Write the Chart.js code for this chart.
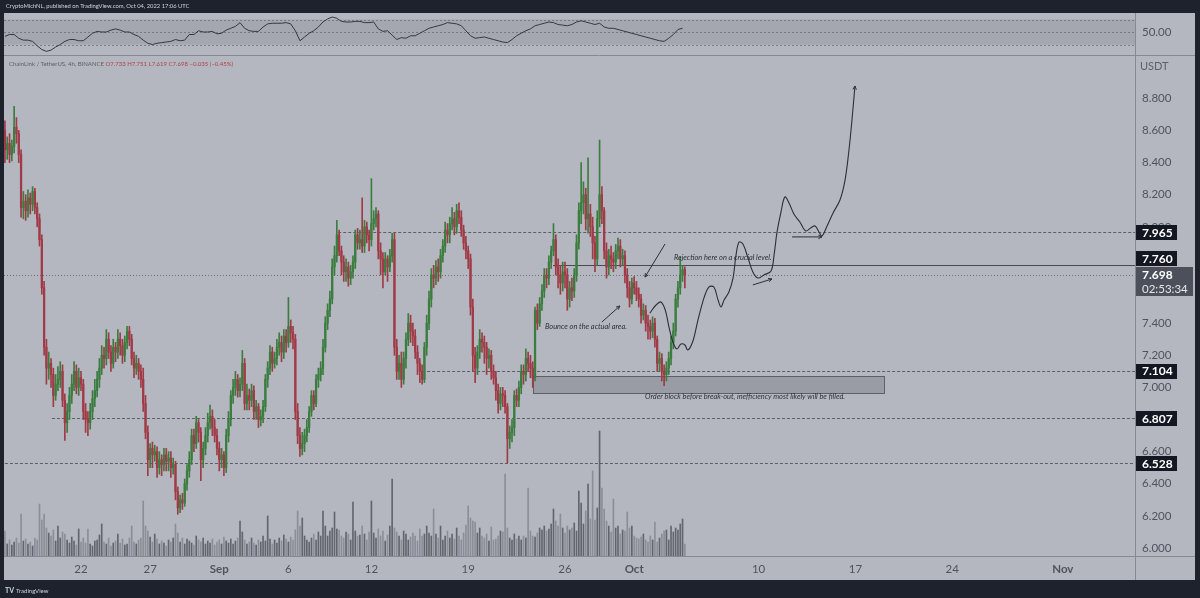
<!DOCTYPE html>
<html><head><meta charset="utf-8">
<script src="https://cdn.jsdelivr.net/npm/chart.js@4.4.0/dist/chart.umd.min.js"></script>
<style>
html,body{margin:0;padding:0;background:#1e222d;width:1200px;height:598px;overflow:hidden;font-family:Lato,"Open Sans",sans-serif;}
#wrap{position:relative;width:1200px;height:598px;}
#bg{position:absolute;left:4px;top:13px;width:1191px;height:567px;background:#b4b7bf;}
canvas{position:absolute;left:0;}
#rsi{top:13px;}
#main{top:0;}
.hdr{position:absolute;left:6px;top:2px;color:#d1d4dc;font-size:5.8px;white-space:nowrap;}
.legend{position:absolute;left:9px;top:60px;color:#5d606b;font-size:6px;white-space:nowrap;}
.legend .v{color:#b0404a;}
.tv{position:absolute;left:5px;top:586px;color:#d1d4dc;font-size:6px;white-space:nowrap;}
.tv b{font-size:7px;margin-right:2px;}
</style></head>
<body><div id="wrap">
<div id="bg"></div>
<canvas id="rsi" width="1200" height="43"></canvas>
<canvas id="main" width="1200" height="598"></canvas>
<div class="hdr">CryptoMichNL, published on TradingView.com, Oct 04, 2022 17:06 UTC</div>
<div class="legend">ChainLink / TetherUS, 4h, BINANCE <span class="v">O7.733 H7.751 L7.619 C7.698 −0.035 (−0.45%)</span></div>
<div class="tv"><b>TV</b>TradingView</div>
</div>
<script>
// ===== DATA (4h candles, LINK/USDT, from Aug 16 12:00 UTC) =====
const opens = [8.60,8.48,8.52,8.45,8.50,8.62,8.58,8.45,8.12,8.16,
8.10,8.18,8.14,8.22,8.12,8.05,7.92,7.62,7.25,7.12,
7.15,7.08,6.95,7.02,7.05,7.10,6.92,6.78,6.85,6.95,
7.02,7.10,7.00,7.06,7.02,6.85,6.80,6.78,6.85,6.93,
6.98,7.05,7.12,7.20,7.18,7.30,7.22,7.15,7.25,7.22,
7.30,7.26,7.20,7.28,7.35,7.30,7.18,7.12,7.15,7.10,
7.05,6.90,6.72,6.55,6.62,6.58,6.60,6.50,6.55,6.52,
6.58,6.54,6.56,6.50,6.52,6.35,6.25,6.30,6.28,6.40,
6.48,6.55,6.70,6.65,6.78,6.72,6.55,6.62,6.70,6.78,
6.82,6.75,6.70,6.62,6.55,6.58,6.50,6.70,6.80,6.95,
7.00,7.05,6.98,7.02,7.15,6.90,6.95,6.92,6.98,6.85,
6.88,6.80,6.82,6.88,7.05,7.12,7.22,7.15,7.18,7.25,
7.28,7.22,7.32,7.28,7.38,7.34,7.30,6.85,6.70,6.62,
6.65,6.70,6.75,6.85,6.95,6.90,7.05,7.08,7.12,7.25,
7.40,7.48,7.55,7.75,7.82,7.95,7.85,7.78,7.72,7.75,
7.68,7.72,7.78,7.95,7.90,7.92,7.88,8.00,7.95,7.92,
8.02,8.05,8.08,7.85,7.80,7.72,7.80,7.75,7.82,7.92,
7.25,7.10,7.15,7.05,7.18,7.30,7.40,7.35,7.32,7.22,
7.15,7.10,7.05,7.25,7.40,7.55,7.70,7.68,7.75,7.72,
7.82,7.88,7.98,7.95,8.02,8.05,8.00,8.10,8.06,7.98,
7.90,7.85,7.80,7.50,7.20,7.12,7.22,7.30,7.28,7.25,
7.18,7.20,7.10,7.06,6.98,6.90,6.96,6.95,6.88,6.68,
6.72,6.75,6.95,6.92,7.00,7.10,7.08,7.18,7.15,7.12,
7.06,7.48,7.40,7.52,7.60,7.70,7.68,7.78,7.85,7.92,
7.75,7.70,7.65,7.72,7.70,7.55,7.62,7.60,7.70,7.90,
8.10,8.15,8.20,8.05,8.08,8.00,7.90,7.80,8.05,8.20,
8.10,7.85,7.75,7.82,7.80,7.78,7.85,7.88,7.80,7.82,
7.70,7.62,7.55,7.65,7.62,7.58,7.55,7.45,7.48,7.40,
7.38,7.35,7.40,7.30,7.15,7.18,7.10,7.08,7.12,7.18,
7.28,7.35,7.55,7.62,7.70,7.733];
const highs = [8.66,8.56,8.58,8.54,8.75,8.68,8.60,8.48,8.22,8.20,
8.23,8.21,8.25,8.24,8.15,8.08,7.95,7.66,7.30,7.22,
7.18,7.12,7.08,7.13,7.16,7.14,6.96,6.90,7.00,7.08,
7.16,7.14,7.12,7.10,7.05,6.90,6.85,6.90,6.98,7.05,
7.10,7.18,7.26,7.25,7.36,7.34,7.26,7.30,7.28,7.36,
7.34,7.30,7.32,7.38,7.38,7.33,7.22,7.20,7.18,7.14,
7.12,6.95,6.76,6.65,6.66,6.64,6.63,6.60,6.58,6.62,
6.62,6.60,6.60,6.56,6.54,6.38,6.33,6.34,6.43,6.52,
6.60,6.74,6.74,6.82,6.80,6.75,6.66,6.75,6.84,6.89,
6.86,6.80,6.74,6.66,6.62,6.60,6.74,6.85,6.98,7.05,
7.10,7.08,7.06,7.23,7.18,7.02,6.99,7.02,7.01,6.92,
6.90,6.86,6.92,7.08,7.16,7.26,7.25,7.22,7.30,7.34,
7.32,7.36,7.36,7.56,7.42,7.38,7.33,6.90,6.75,6.72,
6.74,6.80,6.88,6.98,6.98,7.08,7.12,7.16,7.30,7.44,
7.52,7.60,7.80,7.88,8.04,7.98,7.88,7.82,7.80,7.78,
7.76,7.82,7.98,7.99,7.98,8.18,8.04,8.03,7.98,8.30,
8.10,8.12,8.10,7.90,7.84,7.84,7.82,7.86,7.96,7.96,
7.30,7.20,7.22,7.22,7.34,7.46,7.45,7.40,7.36,7.26,
7.18,7.14,7.28,7.45,7.60,7.74,7.76,7.79,7.80,7.86,
7.92,8.03,8.02,8.06,8.12,8.09,8.14,8.15,8.10,8.01,
7.94,7.88,7.83,7.55,7.25,7.26,7.36,7.34,7.32,7.28,
7.24,7.23,7.14,7.10,7.02,7.00,7.00,6.98,6.90,6.76,
6.80,6.98,6.99,7.04,7.14,7.14,7.24,7.22,7.20,7.16,
7.50,7.52,7.56,7.64,7.74,7.74,7.82,7.88,8.02,7.95,
7.80,7.76,7.78,7.78,7.74,7.66,7.68,7.74,7.95,8.15,
8.40,8.28,8.24,8.43,8.14,8.06,7.94,8.10,8.54,8.25,
8.12,7.90,7.86,7.88,7.84,7.89,7.93,7.92,7.86,7.85,
7.74,7.66,7.68,7.69,7.66,7.62,7.58,7.52,7.51,7.45,
7.42,7.44,7.43,7.32,7.22,7.21,7.14,7.16,7.22,7.32,
7.40,7.58,7.66,7.81,7.76,7.751];
const lows = [8.40,8.42,8.40,8.41,8.46,8.52,8.40,8.06,8.05,8.04,
8.06,8.08,8.10,8.08,8.00,7.88,7.58,7.20,7.02,7.05,
7.00,6.88,6.92,6.98,7.00,6.88,6.67,6.72,6.80,6.90,
6.98,6.96,6.95,6.98,6.80,6.72,6.70,6.74,6.80,6.88,
6.94,7.00,7.08,7.12,7.14,7.18,7.10,7.12,7.16,7.18,
7.20,7.15,7.16,7.24,7.26,7.14,7.06,7.08,7.05,7.00,
6.85,6.68,6.45,6.50,6.50,6.54,6.44,6.46,6.45,6.48,
6.48,6.48,6.44,6.46,6.30,6.21,6.22,6.24,6.26,6.36,
6.44,6.52,6.60,6.62,6.66,6.42,6.50,6.58,6.66,6.74,
6.70,6.66,6.58,6.48,6.50,6.45,6.47,6.66,6.76,6.90,
6.95,6.94,6.94,6.98,6.86,6.86,6.86,6.88,6.80,6.80,
6.75,6.76,6.78,6.85,7.00,7.08,7.10,7.12,7.14,7.20,
7.16,7.18,7.22,7.25,7.28,7.24,6.80,6.65,6.57,6.58,
6.60,6.66,6.72,6.82,6.86,6.88,7.00,7.04,7.08,7.22,
7.36,7.44,7.52,7.70,7.78,7.82,7.70,7.66,7.66,7.63,
7.64,7.68,7.74,7.86,7.86,7.84,7.84,7.90,7.85,7.88,
7.98,8.00,7.80,7.70,7.62,7.70,7.66,7.72,7.78,7.20,
7.05,7.05,7.00,7.02,7.12,7.26,7.28,7.26,7.18,7.08,
7.03,7.02,7.03,7.20,7.36,7.50,7.62,7.64,7.66,7.68,
7.78,7.84,7.90,7.90,7.98,7.95,7.96,8.02,7.94,7.86,
7.80,7.74,7.45,7.10,7.03,7.08,7.18,7.22,7.15,7.08,
7.12,7.05,7.02,6.92,6.84,6.86,6.88,6.84,6.53,6.62,
6.66,6.70,6.88,6.88,6.96,7.02,7.04,7.10,7.06,7.00,
7.04,7.36,7.38,7.48,7.56,7.62,7.64,7.74,7.82,7.70,
7.62,7.58,7.60,7.62,7.48,7.50,7.54,7.56,7.66,7.86,
8.02,8.08,7.98,7.96,7.94,7.80,7.72,7.76,8.00,8.02,
7.80,7.68,7.70,7.74,7.72,7.74,7.80,7.75,7.76,7.65,
7.56,7.50,7.52,7.58,7.54,7.50,7.40,7.42,7.35,7.30,
7.30,7.31,7.25,7.10,7.10,7.04,7.01,7.04,7.08,7.14,
7.24,7.32,7.50,7.58,7.66,7.619];
const closes = [8.48,8.52,8.45,8.50,8.62,8.58,8.45,8.12,8.16,8.10,
8.18,8.14,8.22,8.12,8.05,7.92,7.62,7.25,7.12,7.15,
7.08,6.95,7.02,7.05,7.10,6.92,6.78,6.85,6.95,7.02,
7.10,7.00,7.06,7.02,6.85,6.80,6.78,6.85,6.93,6.98,
7.05,7.12,7.20,7.18,7.30,7.22,7.15,7.25,7.22,7.30,
7.26,7.20,7.28,7.35,7.30,7.18,7.12,7.15,7.10,7.05,
6.90,6.72,6.55,6.62,6.58,6.60,6.50,6.55,6.52,6.58,
6.54,6.56,6.50,6.52,6.35,6.25,6.30,6.28,6.40,6.48,
6.55,6.70,6.65,6.78,6.72,6.55,6.62,6.70,6.78,6.82,
6.75,6.70,6.62,6.55,6.58,6.50,6.70,6.80,6.95,7.00,
7.05,6.98,7.02,7.15,6.90,6.95,6.92,6.98,6.85,6.88,
6.80,6.82,6.88,7.05,7.12,7.22,7.15,7.18,7.25,7.28,
7.22,7.32,7.28,7.38,7.34,7.30,6.85,6.70,6.62,6.65,
6.70,6.75,6.85,6.95,6.90,7.05,7.08,7.12,7.25,7.40,
7.48,7.55,7.75,7.82,7.95,7.85,7.78,7.72,7.75,7.68,
7.72,7.78,7.95,7.90,7.92,7.88,8.00,7.95,7.92,8.02,
8.05,8.08,7.85,7.80,7.72,7.80,7.75,7.82,7.92,7.25,
7.10,7.15,7.05,7.18,7.30,7.40,7.35,7.32,7.22,7.15,
7.10,7.05,7.25,7.40,7.55,7.70,7.68,7.75,7.72,7.82,
7.88,7.98,7.95,8.02,8.05,8.00,8.10,8.06,7.98,7.90,
7.85,7.80,7.50,7.20,7.12,7.22,7.30,7.28,7.25,7.18,
7.20,7.10,7.06,6.98,6.90,6.96,6.95,6.88,6.68,6.72,
6.75,6.95,6.92,7.00,7.10,7.08,7.18,7.15,7.12,7.06,
7.48,7.40,7.52,7.60,7.70,7.68,7.78,7.85,7.92,7.75,
7.70,7.65,7.72,7.70,7.55,7.62,7.60,7.70,7.90,8.10,
8.15,8.20,8.05,8.08,8.00,7.90,7.80,8.05,8.20,8.10,
7.85,7.75,7.82,7.80,7.78,7.85,7.88,7.80,7.82,7.70,
7.62,7.55,7.65,7.62,7.58,7.55,7.45,7.48,7.40,7.38,
7.35,7.40,7.30,7.15,7.18,7.10,7.08,7.12,7.18,7.28,
7.35,7.55,7.62,7.70,7.733,7.698];
// volume (thousand LINK)
const volumes = [250,120,160,110,140,180,130,420,150,170,
120,140,100,180,160,520,360,420,280,230,
200,260,150,300,180,240,220,160,130,190,
150,110,270,140,180,130,270,120,100,150,
160,210,320,140,120,180,100,130,150,220,
130,170,110,120,180,300,140,120,160,180,
550,300,250,190,140,220,170,120,150,130,
100,160,140,180,320,230,140,180,120,170,
150,130,110,200,160,140,180,120,150,130,
170,110,140,160,120,190,150,130,170,120,
150,180,350,240,160,120,140,180,130,110,
160,140,200,150,400,170,120,160,130,180,
150,210,170,140,190,160,260,450,300,380,
200,160,140,180,220,160,240,200,450,300,
200,250,280,440,270,260,200,180,240,220,
160,540,250,200,210,300,220,160,240,550,
230,180,270,200,250,150,210,300,770,280,
240,200,160,250,220,160,190,230,200,150,
270,200,220,300,230,200,470,220,180,300,
160,200,250,180,220,170,280,200,160,230,
310,500,380,350,340,230,280,200,180,220,
150,290,160,170,200,250,240,820,280,180,
160,220,170,200,160,200,180,680,250,200,
190,230,280,260,300,250,270,320,470,350,
300,420,280,230,300,260,280,330,250,650,
530,320,450,720,370,850,360,480,1250,680,
470,350,300,240,570,280,300,220,260,250,
440,280,300,200,180,170,190,220,160,140,
200,160,340,140,180,220,250,260,160,300,
240,280,260,320,370,120];
// RSI(14), read every 2nd candle
const rsiValues = [43,46,46,40,37,37,35,28,22,19,
21,26,30,35,38,38,36,36,42,48,
51,50,50,53,55,53,50,50,46,43,
37,32,30,32,33,34,35,38,36,37,
46,46,52,50,50,51,47,48,53,56,
59,65,56,52,51,51,58,63,64,64,
64,65,63,52,36,42,48,52,58,66,
71,74,72,67,66,66,67,67,65,65,
66,55,51,52,45,38,41,40,44,44,
48,52,56,58,60,62,65,64,63,60,
52,44,40,41,42,40,38,36,34,33,
38,44,48,52,55,60,62,64,66,65,
62,61,60,62,66,68,66,64,62,64,
58,56,56,54,52,50,48,46,44,42,
40,38,36,35,40,46,54,56];
const rsiStep = 2;
const rsiLevels = [70,50,30];
// axis labels
const priceTicks = [6.0,6.2,6.4,6.6,6.8,7.0,7.2,7.4,7.6,7.8,8.0,8.2,8.4,8.6,8.8];
const xTickIndex = [33,63,93,123,159,201,243,273,327,369,411,459];
const xTickLabels = ['22','27','Sep','6','12','19','26','Oct','10','17','24','Nov'];
const monthLabels = ['Sep','Oct','Nov'];
// drawn levels
const levelPrices = [7.965,7.760,7.104,6.807,6.528];
const lastPrice = 7.698;
const countdown = '02:53:34';
// hand-drawn projection path (candle index, price)
const projIdx = [279.8,282.5,284.6,286.5,288.1,289.8,291.6,293.3,295.0,296.3,298.5,300.7,303.3,305.4,307.6,309.4,310.7,312.0,314.1,315.9,317.2,318.5,320.2,322.4,324.5,326.7,329.3,332.4,333.7,335.0,336.7,338.4,340.2,342.3,344.9,347.5,349.7,351.5,353.2,354.5,356.7,359.3,362.3,364.5,366.2,367.5,368.8];
const projPrice = [7.463,7.513,7.532,7.482,7.376,7.283,7.239,7.270,7.264,7.233,7.289,7.420,7.557,7.625,7.625,7.544,7.501,7.544,7.594,7.681,7.824,7.905,7.893,7.806,7.719,7.681,7.700,7.725,7.824,7.968,8.092,8.186,8.148,8.080,8.030,7.974,7.994,8.005,7.968,7.943,8.005,8.086,8.167,8.291,8.478,8.665,8.877];

// ===== drawing config (positions / styles) =====
const drawings = {
  orderBlock:{from:229.1,to:381.4,top:7.071,bottom:6.965},
  levelStarts:[144.6,237.8,181,20.4,0],
  levelDash:[[3,2],[],[3,2],[3,2],[3,2]],
  notes:[
    {text:'Rejection here on a crucial level.',i:290.3,p:7.806},
    {text:'Bounce on the actual area.',i:234.3,p:7.376},
    {text:'Order block before break-out, inefficiency most likely will be filled.',i:277.7,p:6.940}
  ],
  arrows:[
    {from:[286.4,7.893],to:[277.7,7.687]},
    {from:[259.0,7.407],to:[266.8,7.507]},
    {from:[324.5,7.638],to:[332.8,7.675]},
    {from:[341.5,7.937],to:[354.5,7.937]}
  ]
};

const UP='#3b7c3f', DOWN='#a03a46';
const FONT='Lato, "Open Sans", sans-serif';
const X_MIN=-0.4, X_MAX=490.3;

const wickData=[], bodyData=[], volData=[], colors=[], volColors=[];
for(let i=0;i<closes.length;i++){
  const up = closes[i]>=opens[i];
  wickData.push({x:i,y:[lows[i],highs[i]]});
  bodyData.push({x:i,y:[opens[i],closes[i]]});
  volData.push({x:i,y:volumes[i]});
  colors.push(up?UP:DOWN);
  volColors.push(up?'rgba(84,87,95,0.85)':'rgba(132,135,144,0.85)');
}
const projData = projIdx.map((v,k)=>({x:v,y:projPrice[k]}));
const rsiData = rsiValues.map((v,k)=>({x:k*rsiStep,y:v}));

function arrowHead(ctx,x0,y0,x1,y1,len){
  const a=Math.atan2(y1-y0,x1-x0);
  ctx.beginPath();
  ctx.moveTo(x1,y1);ctx.lineTo(x1-len*Math.cos(a-0.45),y1-len*Math.sin(a-0.45));
  ctx.moveTo(x1,y1);ctx.lineTo(x1-len*Math.cos(a+0.45),y1-len*Math.sin(a+0.45));
  ctx.stroke();
}

const overlay={
  id:'overlay',
  beforeDatasetsDraw(chart){
    const {ctx,chartArea:a,scales:{x,y}}=chart;
    ctx.save();
    ctx.beginPath();ctx.rect(a.left,a.top,a.right-a.left,a.bottom-a.top);ctx.clip();
    const ob=drawings.orderBlock;
    const x0=x.getPixelForValue(ob.from),x1=x.getPixelForValue(ob.to);
    const y0=y.getPixelForValue(ob.top),y1=y.getPixelForValue(ob.bottom);
    ctx.fillStyle='rgba(120,123,133,0.45)';ctx.fillRect(x0,y0,x1-x0,y1-y0);
    ctx.strokeStyle='rgba(85,88,97,0.9)';ctx.lineWidth=1;ctx.strokeRect(Math.round(x0)+0.5,Math.round(y0)+0.5,Math.round(x1-x0),Math.round(y1-y0));
    let ly=Math.round(y.getPixelForValue(lastPrice))+0.5;
    ctx.strokeStyle='rgba(85,88,97,0.75)';ctx.setLineDash([1,2]);
    ctx.beginPath();ctx.moveTo(a.left,ly);ctx.lineTo(a.right,ly);ctx.stroke();
    levelPrices.forEach((p,k)=>{
      const yy=Math.round(y.getPixelForValue(p))+0.5;
      ctx.setLineDash(drawings.levelDash[k]);
      ctx.strokeStyle=k===1?'rgba(60,63,72,0.9)':'rgba(70,73,82,0.8)';
      ctx.beginPath();ctx.moveTo(x.getPixelForValue(drawings.levelStarts[k]),yy);ctx.lineTo(a.right,yy);ctx.stroke();
    });
    ctx.restore();
  },
  afterDatasetsDraw(chart){
    const {ctx,scales:{x,y}}=chart;
    ctx.save();
    ctx.fillStyle='#2c2f37';
    ctx.font='italic 7.4px '+FONT;
    ctx.textBaseline='middle';ctx.textAlign='left';
    drawings.notes.forEach(n=>ctx.fillText(n.text,x.getPixelForValue(n.i),y.getPixelForValue(n.p)));
    ctx.strokeStyle='#2c2f37';ctx.lineWidth=1;
    drawings.arrows.forEach(ar=>{
      const x0=x.getPixelForValue(ar.from[0]),y0=y.getPixelForValue(ar.from[1]);
      const x1=x.getPixelForValue(ar.to[0]),y1=y.getPixelForValue(ar.to[1]);
      ctx.beginPath();ctx.moveTo(x0,y0);ctx.lineTo(x1,y1);ctx.stroke();
      arrowHead(ctx,x0,y0,x1,y1,4);
    });
    const n=projIdx.length;
    arrowHead(ctx,x.getPixelForValue(projIdx[n-2]),y.getPixelForValue(projPrice[n-2]),x.getPixelForValue(projIdx[n-1]),y.getPixelForValue(projPrice[n-1]),4);
    ctx.restore();
  },
  afterDraw(chart){
    const {ctx,chartArea:a,scales:{y}}=chart;
    ctx.save();
    ctx.strokeStyle='#868993';ctx.lineWidth=1;
    ctx.beginPath();
    ctx.moveTo(a.left,a.top-0.5);ctx.lineTo(1195,a.top-0.5);
    ctx.moveTo(a.left,a.bottom+0.5);ctx.lineTo(1195,a.bottom+0.5);
    ctx.moveTo(a.right+0.5,a.top);ctx.lineTo(a.right+0.5,580);
    ctx.stroke();
    ctx.fillStyle='#5d606b';ctx.font='11px '+FONT;ctx.textBaseline='middle';ctx.textAlign='left';
    ctx.fillText('USDT',a.right+5,a.top+10);
    const bx=a.right+1;
    ctx.font='bold 12px '+FONT;
    levelPrices.forEach((p,k)=>{
      let cy=y.getPixelForValue(p);
      if(k===1) cy-=7;
      ctx.fillStyle='#131722';ctx.fillRect(bx,Math.round(cy)-7,41,15);
      ctx.fillStyle='#ffffff';ctx.fillText(p.toFixed(3),bx+6,cy+0.5);
    });
    const cy=y.getPixelForValue(lastPrice);
    ctx.fillStyle='#4c505b';ctx.fillRect(bx,Math.round(cy)-8,57,29);
    ctx.fillStyle='#ffffff';ctx.fillText(lastPrice.toFixed(3),bx+6,cy);
    ctx.font='11.5px '+FONT;ctx.fillStyle='#e6e7ea';
    ctx.fillText(countdown,bx+6,cy+14);
    ctx.restore();
  }
};

new Chart(document.getElementById('main'),{
  data:{datasets:[
    {type:'bar',data:volData,yAxisID:'yv',backgroundColor:volColors,barThickness:1,grouped:false,order:10},
    {type:'bar',data:wickData,yAxisID:'y',backgroundColor:colors,barThickness:1,grouped:false,order:5},
    {type:'bar',data:bodyData,yAxisID:'y',backgroundColor:colors,barThickness:1.6,grouped:false,order:4},
    {type:'line',data:projData,yAxisID:'y',borderColor:'#2c2f37',borderWidth:1.1,pointRadius:0,tension:0.35,order:1}
  ]},
  options:{
    responsive:false,animation:false,
    layout:{padding:{left:4,top:56,right:5,bottom:18}},
    plugins:{legend:{display:false},tooltip:{enabled:false}},
    scales:{
      x:{type:'linear',min:X_MIN,max:X_MAX,offset:false,
        grid:{display:false,drawTicks:false},border:{display:false},
        afterBuildTicks(s){s.ticks=xTickIndex.map(v=>({value:v}));},
        afterFit(s){s.height=24;},
        ticks:{autoSkip:false,maxRotation:0,padding:6,color:'#50535e',
          font:(c)=>({family:FONT,size:11.5,weight:monthLabels.includes(xTickLabels[c.index])?'bold':'normal'}),
          callback:(v,i)=>xTickLabels[i]}},
      y:{type:'linear',position:'right',min:5.9502,max:9.0635,
        grid:{display:false,drawTicks:false},border:{display:false},
        afterBuildTicks(s){s.ticks=priceTicks.map(v=>({value:v}));},
        afterFit(s){s.width=60;},
        ticks:{padding:7,color:'#50535e',font:{family:FONT,size:11.5},callback:(v)=>Number(v).toFixed(3)}},
      yv:{type:'linear',display:false,min:0,max:5000}
    }
  },
  plugins:[overlay]
});

const rsiBand={
  id:'rsiBand',
  beforeDatasetsDraw(chart){
    const {ctx,chartArea:a,scales:{y}}=chart;
    ctx.save();
    const t=y.getPixelForValue(rsiLevels[0]),b=y.getPixelForValue(rsiLevels[2]);
    ctx.fillStyle='rgba(110,113,123,0.22)';ctx.fillRect(a.left,t,a.right-a.left,b-t);
    ctx.strokeStyle='rgba(100,103,113,0.7)';ctx.setLineDash([2,2]);ctx.lineWidth=1;
    rsiLevels.forEach(v=>{const yy=Math.round(y.getPixelForValue(v))+0.5;ctx.beginPath();ctx.moveTo(a.left,yy);ctx.lineTo(a.right,yy);ctx.stroke();});
    ctx.restore();
  },
  afterDraw(chart){
    const {ctx,chartArea:a,scales:{y}}=chart;
    ctx.save();ctx.strokeStyle='#868993';ctx.lineWidth=1;
    ctx.beginPath();ctx.moveTo(a.right+0.5,0);ctx.lineTo(a.right+0.5,a.bottom);ctx.stroke();
    ctx.fillStyle='#50535e';ctx.font='11.5px '+FONT;ctx.textBaseline='middle';ctx.textAlign='left';
    ctx.fillText(rsiLevels[1].toFixed(2),a.right+7,y.getPixelForValue(rsiLevels[1]));
    ctx.restore();
  }
};
new Chart(document.getElementById('rsi'),{
  type:'line',
  data:{datasets:[{data:rsiData,borderColor:'#34373f',borderWidth:1,pointRadius:0,tension:0}]},
  options:{
    responsive:false,animation:false,
    layout:{padding:{left:4,top:0,right:65,bottom:0}},
    plugins:{legend:{display:false},tooltip:{enabled:false}},
    scales:{
      x:{type:'linear',min:X_MIN,max:X_MAX,display:false},
      y:{type:'linear',min:11.6,max:80.4,display:false}
    }
  },
  plugins:[rsiBand]
});
</script>
</body></html>
